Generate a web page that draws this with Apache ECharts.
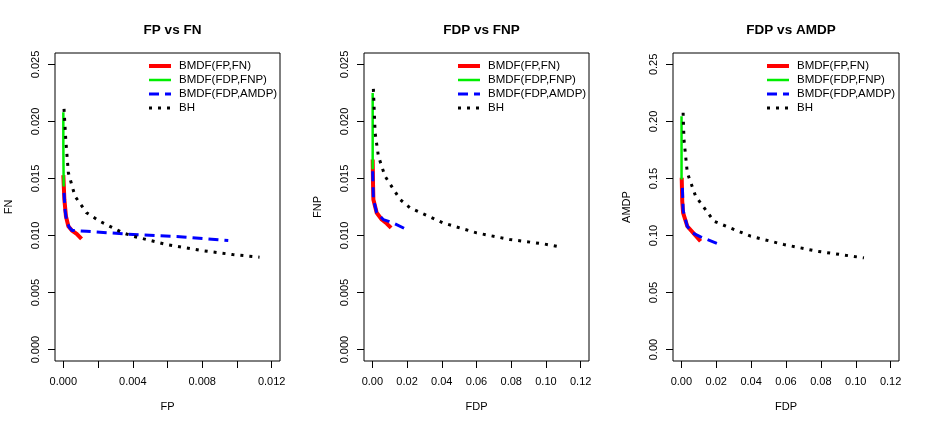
<!DOCTYPE html>
<html>
<head>
<meta charset="utf-8">
<script src="https://cdn.jsdelivr.net/npm/echarts@6/dist/echarts.min.js"></script>
<style>html,body{margin:0;padding:0;background:#fff;}#c{width:927px;height:429px;}</style>
</head>
<body>
<div id="c"></div>
<script>
// ---------- Data ----------
var seriesNames = ['BMDF(FP,FN)', 'BMDF(FDP,FNP)', 'BMDF(FDP,AMDP)', 'BH'];
var panelTitles = ['FP vs FN', 'FDP vs FNP', 'FDP vs AMDP'];
var xNames = ['FP', 'FDP', 'FDP'];
var yNames = ['FN', 'FNP', 'AMDP'];

// Panel 1: FP vs FN
var p1_red_x = [0, 0.00006, 0.00015, 0.00029, 0.00048, 0.00077, 0.00105];
var p1_red_y = [0.0153, 0.01316, 0.01169, 0.01081, 0.01046, 0.01015, 0.0097];
var p1_green_x = [0, 0, 0.00001, 0.00002];
var p1_green_y = [0.0208, 0.018, 0.016, 0.0143];
var p1_blue_x = [0.00004, 0.0001, 0.0002, 0.00035, 0.0005, 0.00134, 0.00402, 0.00689, 0.0095];
var p1_blue_y = [0.01374, 0.0122, 0.0112, 0.0107, 0.01045, 0.01037, 0.01009, 0.00988, 0.00956];
var p1_bh_x = [0.00004, 0.00014, 0.00029, 0.00067, 0.00134, 0.0021, 0.00344, 0.00402, 0.00594, 0.00785, 0.00976, 0.0113];
var p1_bh_y = [0.0211, 0.0184, 0.0155, 0.01345, 0.01199, 0.01125, 0.01023, 0.00994, 0.00921, 0.00871, 0.00833, 0.0081];

// Panel 2: FDP vs FNP
var p2_red_x = [0.0002, 0.0004, 0.0006, 0.0025, 0.0054, 0.0083, 0.0108];
var p2_red_y = [0.01666, 0.0145, 0.01316, 0.01199, 0.0114, 0.01105, 0.01067];
var p2_green_x = [0.0002, 0.0002, 0.0002];
var p2_green_y = [0.0225, 0.019, 0.0158];
var p2_blue_x = [0.0002, 0.0006, 0.0025, 0.0063, 0.0121, 0.0198];
var p2_blue_y = [0.01564, 0.0132, 0.012, 0.0114, 0.0111, 0.01052];
var p2_bh_x = [0.0006, 0.0016, 0.0035, 0.0073, 0.016, 0.0217, 0.0409, 0.0601, 0.0793, 0.0985, 0.1081];
var p2_bh_y = [0.02286, 0.019, 0.01695, 0.0152, 0.01316, 0.01243, 0.0111, 0.01023, 0.00965, 0.00927, 0.009];

// Panel 3: FDP vs AMDP
var p3_red_x = [0.0002, 0.0005, 0.001, 0.0034, 0.0073, 0.011];
var p3_red_y = [0.1506, 0.13, 0.1199, 0.1081, 0.1015, 0.095];
var p3_green_x = [0.0001, 0.0001, 0.0001];
var p3_green_y = [0.2046, 0.175, 0.149];
var p3_blue_x = [0.0006, 0.001, 0.0034, 0.0063, 0.011, 0.0206];
var p3_blue_y = [0.1418, 0.122, 0.108, 0.1023, 0.0988, 0.093];
var p3_bh_x = [0.001, 0.0015, 0.0034, 0.0082, 0.0187, 0.0397, 0.0588, 0.0779, 0.1047];
var p3_bh_y = [0.2076, 0.184, 0.155, 0.1344, 0.1125, 0.0994, 0.0921, 0.0862, 0.0804];

// Axis ticks / labels
var p1_xTicks = [0, 0.002, 0.004, 0.006, 0.008, 0.010, 0.012];
var p1_xLabels = [0, 0.004, 0.008, 0.012];
var p1_yTicks = [0, 0.005, 0.010, 0.015, 0.020, 0.025];
var p2_xTicks = [0, 0.02, 0.04, 0.06, 0.08, 0.10, 0.12];
var p2_yTicks = [0, 0.005, 0.010, 0.015, 0.020, 0.025];
var p3_xTicks = [0, 0.02, 0.04, 0.06, 0.08, 0.10, 0.12];
var p3_yTicks = [0, 0.05, 0.10, 0.15, 0.20, 0.25];

// ---------- Build ----------
function pairs(xs, ys) { return xs.map(function (x, i) { return [x, ys[i]]; }); }
var FONT = '"Liberation Sans", Arial, Helvetica, sans-serif';
var boxes = [
  { left: 55, top: 53, width: 225, height: 308 },
  { left: 364, top: 53, width: 225, height: 308 },
  { left: 673, top: 53, width: 226, height: 308 }
];
var panels = [
  { data: [[p1_red_x, p1_red_y], [p1_green_x, p1_green_y], [p1_blue_x, p1_blue_y], [p1_bh_x, p1_bh_y]],
    xr: [0, 0.012], yr: [0, 0.025], xt: p1_xTicks, xl: p1_xLabels, yt: p1_yTicks, xd: 3, yd: 3 },
  { data: [[p2_red_x, p2_red_y], [p2_green_x, p2_green_y], [p2_blue_x, p2_blue_y], [p2_bh_x, p2_bh_y]],
    xr: [0, 0.12], yr: [0, 0.025], xt: p2_xTicks, xl: p2_xTicks, yt: p2_yTicks, xd: 2, yd: 3 },
  { data: [[p3_red_x, p3_red_y], [p3_green_x, p3_green_y], [p3_blue_x, p3_blue_y], [p3_bh_x, p3_bh_y]],
    xr: [0, 0.12], yr: [0, 0.25], xt: p3_xTicks, xl: p3_xTicks, yt: p3_yTicks, xd: 2, yd: 2 }
];
var styles = [
  { color: '#ff0000', width: 4, type: 'solid' },
  { color: '#00ee00', width: 2.5, type: 'solid' },
  { color: '#0000ff', width: 3, type: [10, 6] },
  { color: '#000000', width: 3, type: [3, 6] }
];

var grids = [], xAxes = [], yAxes = [], series = [], titles = [], legends = [];
panels.forEach(function (p, k) {
  var b = boxes[k];
  grids.push({ left: b.left, top: b.top, width: b.width, height: b.height, show: true,
    borderColor: '#000', borderWidth: 1, backgroundColor: 'transparent', containLabel: false });
  var xpad = (p.xr[1] - p.xr[0]) * 0.04, ypad = (p.yr[1] - p.yr[0]) * 0.04;
  xAxes.push({
    type: 'value', gridIndex: k, position: 'bottom', min: p.xr[0] - xpad, max: p.xr[1] + xpad,
    name: xNames[k], nameLocation: 'middle', nameGap: 40,
    nameTextStyle: { fontSize: 11, color: '#000', fontFamily: FONT },
    axisLine: { show: false, onZero: false }, splitLine: { show: false },
    axisTick: { show: true, inside: false, length: 7, customValues: p.xt, lineStyle: { color: '#000', width: 1 } },
    axisLabel: { show: true, customValues: p.xl, margin: 15, fontSize: 11, color: '#000', fontFamily: FONT,
      formatter: (function (d) { return function (v) { return v.toFixed(d); }; })(p.xd) }
  });
  yAxes.push({
    type: 'value', gridIndex: k, position: 'left', min: p.yr[0] - ypad, max: p.yr[1] + ypad,
    name: yNames[k], nameLocation: 'middle', nameGap: 41,
    nameTextStyle: { fontSize: 11, color: '#000', fontFamily: FONT },
    axisLine: { show: false, onZero: false }, splitLine: { show: false },
    axisTick: { show: true, inside: false, length: 7, customValues: p.yt, lineStyle: { color: '#000', width: 1 } },
    axisLabel: { show: true, customValues: p.yt, margin: 14, rotate: 90, fontSize: 11, color: '#000', fontFamily: FONT,
      formatter: (function (d) { return function (v) { return v.toFixed(d); }; })(p.yd) }
  });
  p.data.forEach(function (d, i) {
    series.push({
      type: 'line', name: seriesNames[i], xAxisIndex: k, yAxisIndex: k,
      data: pairs(d[0], d[1]), showSymbol: false, symbol: 'none', silent: true, animation: false,
      z: 2 + i,
      lineStyle: { color: styles[i].color, width: styles[i].width, type: styles[i].type, cap: 'butt', join: 'round' },
      itemStyle: { color: styles[i].color }
    });
  });
  titles.push({ text: panelTitles[k], left: b.left + b.width / 2, top: 18, textAlign: 'center',
    textStyle: { fontSize: 13.5, fontWeight: 'bold', color: '#000', fontFamily: FONT } });
  legends.push({
    data: seriesNames.map(function (n, i) {
      return { name: n, itemStyle: { opacity: 0 },
        lineStyle: { color: styles[i].color, width: styles[i].width, type: styles[i].type, cap: 'butt' } };
    }),
    orient: 'vertical', left: b.left + 92, top: 60, padding: 0,
    itemWidth: 22, itemHeight: 11, itemGap: 2, selectedMode: false,
    textStyle: { fontSize: 11.5, color: '#000', fontFamily: FONT, padding: [0, 0, 0, 3] }
  });
});

var chart = echarts.init(document.getElementById('c'), null, { renderer: 'canvas' });
chart.setOption({
  backgroundColor: '#fff', animation: false,
  title: titles, legend: legends, grid: grids, xAxis: xAxes, yAxis: yAxes, series: series
});
</script>
</body>
</html>
